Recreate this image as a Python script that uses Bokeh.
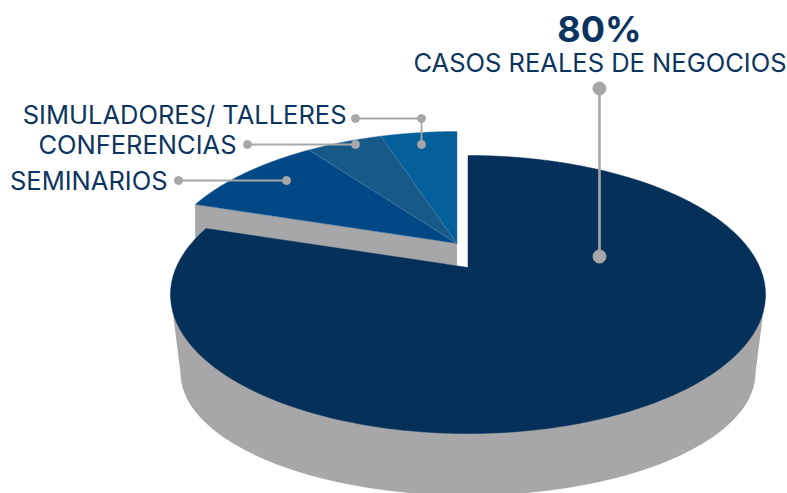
import numpy as np
from bokeh.plotting import figure
from bokeh.models import Range1d
from bokeh.core.properties import value
from bokeh.embed import file_html
from bokeh.resources import INLINE

# Data
categories = ["CASOS REALES DE NEGOCIOS", "SEMINARIOS", "CONFERENCIAS", "SIMULADORES/ TALLERES"]
shares = [80, 10, 5, 5]
slice_colors = ["#043059", "#024885", "#175a8a", "#03609a"]
headline = "80%"

# Layout (page pixels)
CX, CY, A, B = 467.5, 294.0, 297.5, 139.0      # top ellipse
APEX_K = 0.194                                  # perspective shift of the pie centre
EXPLODE = (-11.0, -24.0)                        # offset of the pulled-out slices
LOW = (467.5, 372.0, 287.5, 123.0)              # bottom rim
GRAY = "#a7a7a9"
NAVY = "#0b3560"
FONT = "Inter"
SIZE = "25.5px"


def project(turn, off=(0.0, 0.0)):
    """Clockwise fraction of the pie (0 = top) -> pixel point on the tilted rim."""
    a = 2 * np.pi * np.asarray(turn, dtype=float)
    u, v = np.sin(a), np.cos(a)
    k = APEX_K
    d = 1 + k * v
    return CX + A * u * np.sqrt(1 - k * k) / d + off[0], CY - B * (v + k) / d + off[1]


def wedge(start, end, off=(0.0, 0.0)):
    t = np.linspace(start, end, 240)
    x, y = project(t, off)
    ax, ay = CX + off[0], CY - B * APEX_K + off[1]
    return np.r_[ax, x], np.r_[ay, y]


fr = np.array(shares, dtype=float) / sum(shares)
edges = np.r_[0.0, np.cumsum(fr)]

p = figure(width=787, height=493, x_range=Range1d(0, 787), y_range=Range1d(493, 0),
           output_backend="svg", toolbar_location=None, min_border=0,
           background_fill_color="white", border_fill_color="white", outline_line_color=None)
p.axis.visible = False
p.grid.visible = False

# gray wall of the main slice: lower half of the bottom rim joined to the top ellipse
t = np.linspace(0, np.pi, 300)
lx = LOW[0] + LOW[2] * np.cos(t)
ly = LOW[1] + LOW[3] * np.sin(t)
p.patch(np.r_[CX + A, lx, CX - A], np.r_[CY, ly, CY], fill_color=GRAY, line_color=None)

# gray cut face of the pulled-out slices
ex, ey = project(edges[1], EXPLODE)
ax, ay = CX + EXPLODE[0], CY - B * APEX_K + EXPLODE[1]
p.patch([ex, ax, ax, ex], [ey, ay, ay + 22, ey + 34], fill_color=GRAY, line_color=None)

# main slice (80 %): clockwise from the top, drawn as a wedge
x0, y0 = wedge(edges[0], edges[1])
p.patch(x0, y0, fill_color=slice_colors[0], line_color=slice_colors[0], line_width=0.5)

# pulled-out slices
for i in range(1, 4):
    x, y = wedge(edges[i], edges[i + 1], EXPLODE)
    p.patch(x, y, fill_color=slice_colors[i], line_color="#3f76a3", line_width=0.5)

# leaders
p.line([599, 599], [88, 256], line_color=GRAY, line_width=2.6)
p.scatter([599, 599], [88, 256], size=13, color=GRAY)
p.line([178, 286], [180, 180], line_color=GRAY, line_width=1.8)
p.line([247, 355], [144, 144], line_color=GRAY, line_width=1.8)
p.line([355, 421, 421], [118, 118, 144], line_color=GRAY, line_width=1.8)
p.scatter([178, 286, 247, 355, 355, 421, 421], [180, 180, 144, 144, 118, 118, 144], size=8, color=GRAY)

# text
p.text([599], [28], text=[headline], text_font=value(FONT), text_font_style="bold",
       text_font_size="36px", text_color=NAVY, text_align="center", text_baseline="middle")
p.text([599.5], [62], text=[categories[0]], text_font=value(FONT), text_font_size=SIZE,
       text_color=NAVY, text_align="center", text_baseline="middle")
p.text([346, 236, 167], [114, 144, 180], text=[categories[3], categories[2], categories[1]],
       text_font=value(FONT), text_font_size=SIZE, text_color=NAVY,
       text_align="right", text_baseline="middle")

open("out.html", "w").write(file_html(p, INLINE))
